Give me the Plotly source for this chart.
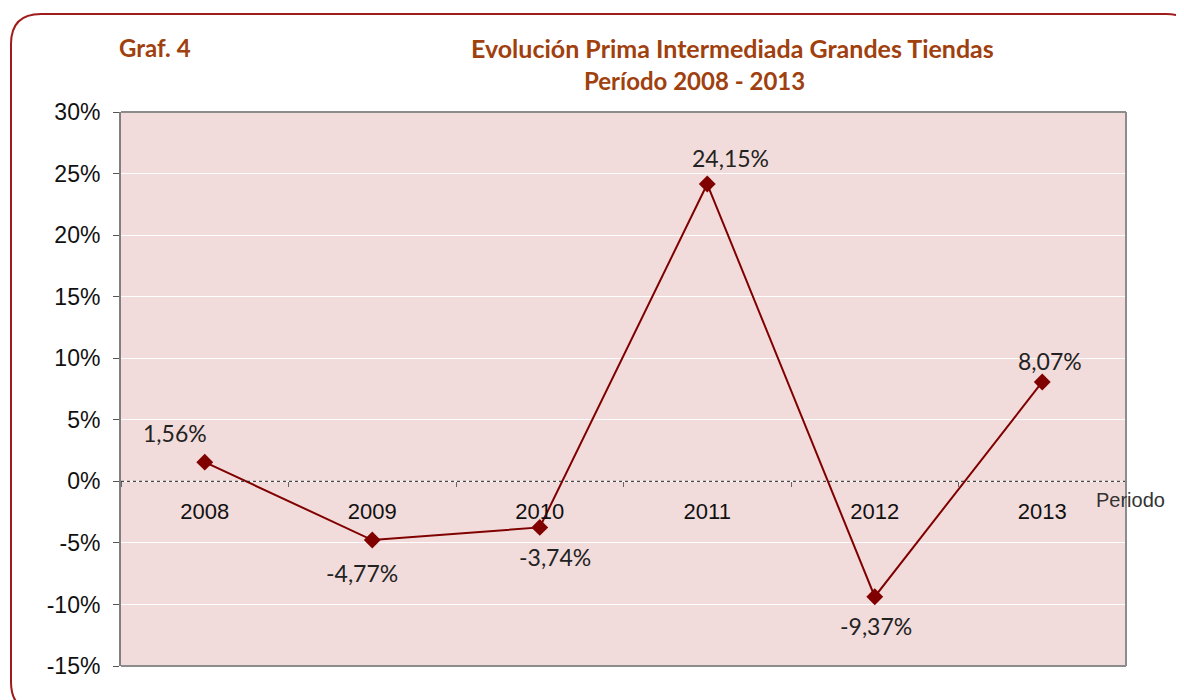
import plotly.graph_objects as go

years = ["2008", "2009", "2010", "2011", "2012", "2013"]
growth = [1.56, -4.77, -3.74, 24.15, -9.37, 8.07]
y_ticks = [-15, -10, -5, 0, 5, 10, 15, 20, 25, 30]

# label offsets in pixels (x right, y up)
label_dx = [-30, -10, 15, 23, 1, 8]
label_dy = [29, -33, -30, 26, -29, 21]

# page body adds an 8px margin, so the figure is drawn 8px smaller
OFF = 8
W, H = 1184 - OFF, 700 - OFF
L, R, T, B = 121 - OFF, 58, 112 - OFF, 34
pw, ph = W - L - R, H - T - B


def px(x):
    return (x - OFF - L) / pw


def py(y):
    return (H - B - (y - OFF)) / ph


def rounded_rect(x0, y0, x1, y1, r):
    pts = [
        f"M {px(x0 + r)},{py(y0)}",
        f"L {px(x1 - r)},{py(y0)}",
        f"Q {px(x1)},{py(y0)} {px(x1)},{py(y0 + r)}",
        f"L {px(x1)},{py(y1 - r)}",
        f"Q {px(x1)},{py(y1)} {px(x1 - r)},{py(y1)}",
        f"L {px(x0 + r)},{py(y1)}",
        f"Q {px(x0)},{py(y1)} {px(x0)},{py(y1 - r)}",
        f"L {px(x0)},{py(y0 + r)}",
        f"Q {px(x0)},{py(y0)} {px(x0 + r)},{py(y0)} Z",
    ]
    return " ".join(pts)


def note(x, y, text, size, color, family="Lato"):
    fig.add_annotation(x=px(x), y=py(y), xref="paper", yref="paper", showarrow=False,
                       xanchor="center", yanchor="middle", text=text,
                       font=dict(family=family, size=size, color=color))


fig = go.Figure()
fig.add_trace(go.Scatter(
    x=years, y=growth,
    mode="lines+markers",
    line=dict(color="#800000", width=2),
    marker=dict(symbol="diamond", size=13, color="#800000"),
    cliponaxis=False,
    showlegend=False,
))

# data labels (category axis: position by index)
for i, (v, dx, dy) in enumerate(zip(growth, label_dx, label_dy)):
    fig.add_annotation(x=i, y=v, xref="x", yref="y", showarrow=False,
                       xanchor="center", yanchor="middle",
                       text=f"{v:.2f}%".replace(".", ","),
                       xshift=dx, yshift=dy,
                       font=dict(family="Lato", size=23, color="#222222"))

# dotted zero line
fig.add_shape(type="line", xref="paper", yref="y", x0=0, x1=1, y0=0, y1=0,
              line=dict(color="#222222", width=1, dash="dot"))

fig.add_shape(type="path", xref="paper", yref="paper",
              path=rounded_rect(11, 14, 1196, 712, 30),
              line=dict(color="#A01C1C", width=2))

title_color = "#A0400E"
note(155, 48, "<b>Graf. 4</b>", 24, title_color)
note(732, 48, "<b>Evolución Prima Intermediada Grandes Tiendas</b>", 25, title_color)
note(694, 80, "<b>Período 2008 - 2013</b>", 24, title_color)
note(1130, 500, "Periodo", 20, "#333333", family="Liberation Sans")

fig.update_layout(
    width=W, height=H,
    margin=dict(l=L, r=R, t=T, b=B),
    paper_bgcolor="white",
    plot_bgcolor="#F2DCDB",
    font=dict(family="Liberation Sans", size=23, color="#111111"),
    xaxis=dict(
        type="category", range=[-0.5, 5.5],
        anchor="free", position=1 / 3,
        showgrid=False, showline=False, zeroline=False,
        ticks="outside", ticklen=5, tickcolor="#666666", tickson="boundaries",
        tickfont=dict(family="Liberation Sans", size=22, color="#111111"),
        ticklabelstandoff=15,
    ),
    yaxis=dict(
        range=[-15, 30], tickvals=y_ticks,
        ticktext=[f"{v}%" for v in y_ticks],
        showgrid=True, gridcolor="white", gridwidth=1,
        zeroline=False,
        showline=True, linecolor="#7F7F7F", linewidth=2,
        ticks="outside", ticklen=6, tickcolor="#555555",
        ticklabelstandoff=8,
    ),
)
# remaining frame of the plot area
fig.add_shape(type="line", xref="paper", yref="paper", x0=1, x1=1, y0=0, y1=1,
              line=dict(color="#8C8C8C", width=2))
fig.add_shape(type="line", xref="paper", yref="paper", x0=0, x1=1, y0=1, y1=1,
              line=dict(color="#8C8C8C", width=2))
fig.add_shape(type="line", xref="paper", yref="paper", x0=0, x1=1, y0=0, y1=0,
              line=dict(color="#8C8C8C", width=2))

fig.write_html("out.html")
